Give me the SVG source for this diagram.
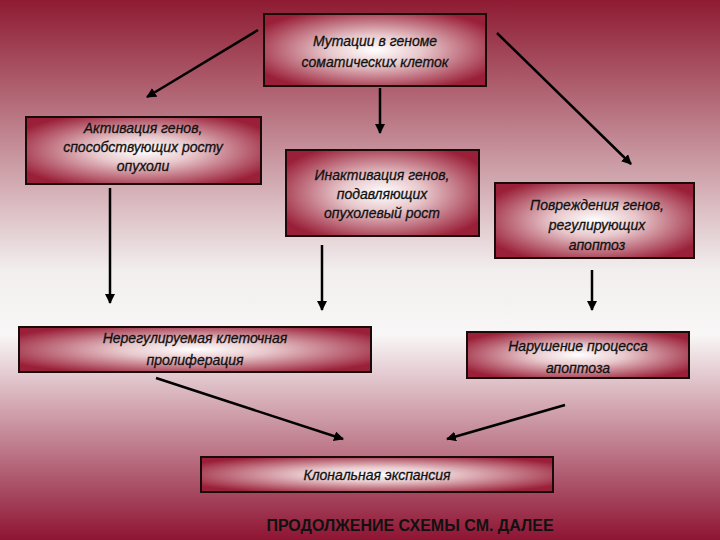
<svg xmlns="http://www.w3.org/2000/svg" width="720" height="540" viewBox="0 0 720 540">
<defs>
<linearGradient id="bg" x1="0" y1="0" x2="0" y2="1">
<stop offset="0" stop-color="#8e1b32"/>
<stop offset="0.5" stop-color="#f2eeee"/>
<stop offset="0.62" stop-color="#f8f6f6"/>
<stop offset="1" stop-color="#8e1433"/>
</linearGradient>
<radialGradient id="box" cx="0.5" cy="0.5" r="0.6">
<stop offset="0" stop-color="#ffffff"/>
<stop offset="0.35" stop-color="#e8c8cc"/>
<stop offset="1" stop-color="#9a1f38"/>
</radialGradient>
<marker id="ah" viewBox="0 0 10 10" refX="9" refY="5" markerWidth="4" markerHeight="4" orient="auto" markerUnits="strokeWidth">
<path d="M0,0 L10,5 L0,10 z" fill="#000"/>
</marker>
<style>
.b{fill:url(#box);stroke:#1a0a0a;stroke-width:2}
.t{font-family:"Liberation Sans",Arial,sans-serif;font-style:italic;font-size:14px;fill:#111;text-anchor:middle;stroke:#111;stroke-width:0.3}
.c line{stroke:#000;stroke-width:2.5;marker-end:url(#ah)}
</style>
</defs>
<rect width="720" height="540" fill="url(#bg)"/>
<g class="c" id="connectors">
<line x1="258" y1="30" x2="147" y2="97"/>
<line x1="380" y1="88" x2="380" y2="133"/>
<line x1="497" y1="33" x2="631" y2="164"/>
<line x1="110" y1="188" x2="110" y2="303"/>
<line x1="322" y1="245" x2="322" y2="310"/>
<line x1="592" y1="270" x2="592" y2="310"/>
<line x1="156" y1="378" x2="343" y2="439"/>
<line x1="565" y1="405" x2="447" y2="439"/>
</g>
<g id="n1"><rect class="b" x="264" y="14" width="222" height="72"/>
<text class="t" x="375" y="46" font-size="15">Мутации в геноме</text><text class="t" x="375" y="67" font-size="15">соматических клеток</text></g>
<g id="n2"><rect class="b" x="26" y="117" width="235" height="67"/>
<text class="t" x="143" y="133" font-size="13">Активация генов,</text><text class="t" x="143" y="152" font-size="13">способствующих росту</text><text class="t" x="143" y="171" font-size="13">опухоли</text></g>
<g id="n3"><rect class="b" x="286" y="150" width="193" height="86"/>
<text class="t" x="382" y="180" font-size="13">Инактивация генов,</text><text class="t" x="382" y="199" font-size="13">подавляющих</text><text class="t" x="382" y="218" font-size="13">опухолевый рост</text></g>
<g id="n4"><rect class="b" x="495" y="183" width="199" height="75"/>
<text class="t" x="597" y="210" font-size="13">Повреждения генов,</text><text class="t" x="597" y="230" font-size="13">регулирующих</text><text class="t" x="597" y="250" font-size="13">апоптоз</text></g>
<g id="n5"><rect class="b" x="19" y="327" width="352" height="45"/>
<text class="t" x="195" y="343" font-size="16">Нерегулируемая клеточная</text><text class="t" x="195" y="365" font-size="16">пролиферация</text></g>
<g id="n6"><rect class="b" x="467" y="332" width="222" height="46"/>
<text class="t" x="578" y="351" font-size="16">Нарушение процесса</text><text class="t" x="578" y="373" font-size="16">апоптоза</text></g>
<g id="n7"><rect class="b" x="201" y="457" width="352" height="35"/>
<text class="t" x="377" y="480" font-size="16">Клональная экспансия</text></g>
<text x="410" y="531" font-family="Liberation Sans Narrow,Liberation Sans,Arial,sans-serif" font-weight="bold" font-size="16" fill="#111" text-anchor="middle">ПРОДОЛЖЕНИЕ СХЕМЫ СМ. ДАЛЕЕ</text>
</svg>
